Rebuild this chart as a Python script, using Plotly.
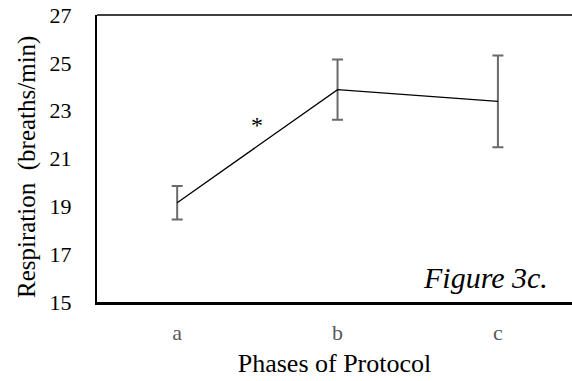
import plotly.graph_objects as go

# Respiration rate by protocol phase
phases = ["a", "b", "c"]
respiration = [19.15, 23.88, 23.39]
resp_err = [0.70, 1.26, 1.92]
y_ticks = [15, 17, 19, 21, 23, 25, 27]

serif = "Liberation Serif"

fig = go.Figure()
fig.add_trace(go.Scatter(
    x=phases,
    y=respiration,
    mode="lines",
    line=dict(color="black", width=1.3),
    error_y=dict(type="data", array=resp_err, visible=True,
                 color="#6a6a6a", thickness=2, width=5.5),
    showlegend=False,
))

fig.update_layout(
    width=572, height=381,
    margin=dict(l=97, r=0, t=15, b=79),
    paper_bgcolor="white", plot_bgcolor="white",
    font=dict(family=serif, color="black"),
    xaxis=dict(
        type="category", range=[-0.5, 2.462],
        showline=True, linecolor="black", linewidth=3,
        showgrid=False, zeroline=False, ticks="",
        tickfont=dict(family=serif, size=22, color="#595959"),
        ticklabelstandoff=9,
        title=dict(text="Phases of Protocol",
                   font=dict(family=serif, size=26, color="black"),
                   standoff=10),
    ),
    yaxis=dict(
        range=[15, 27], tickvals=y_ticks,
        showline=True, linecolor="black", linewidth=2,
        showgrid=False, zeroline=False, ticks="",
        tickfont=dict(family=serif, size=22, color="black"),
        ticklabelstandoff=19,
    ),
    shapes=[dict(type="line", xref="paper", yref="paper", x0=0, x1=1, y0=1, y1=1,
                 line=dict(color="black", width=1.5))],
    annotations=[
        # y-axis title
        dict(x=-0.147, y=0.471, xref="paper", yref="paper",
             text="Respiration  (breaths/min)", textangle=-90, showarrow=False,
             xanchor="center", yanchor="middle",
             font=dict(size=25, color="black", family=serif)),
        dict(x=0.5, y=22.4, xref="x", yref="y", text="*", showarrow=False,
             font=dict(size=24, color="black", family=serif)),
        dict(x=0.953, y=0.087, xref="paper", yref="paper", text="<i>Figure 3c.</i>",
             showarrow=False, xanchor="right", yanchor="middle",
             font=dict(size=30, color="black", family=serif)),
    ],
)

fig.write_html("out.html")
